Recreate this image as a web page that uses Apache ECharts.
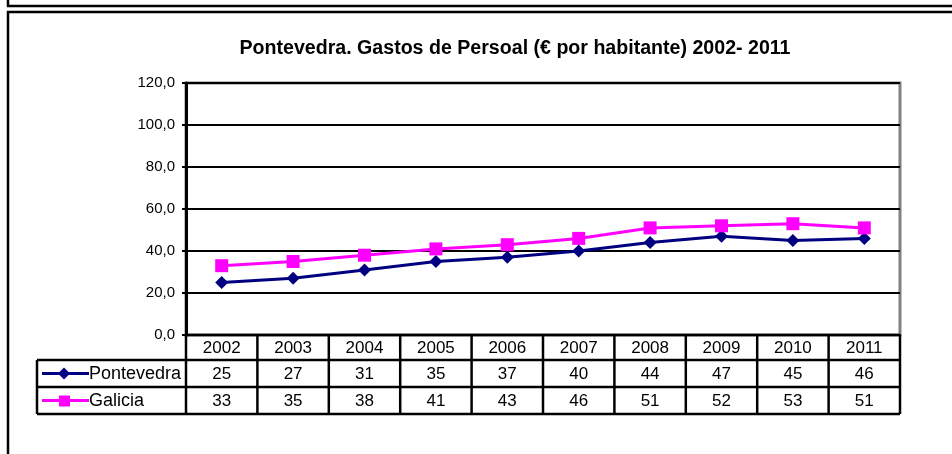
<!DOCTYPE html>
<html>
<head>
<meta charset="utf-8">
<script src="https://cdn.jsdelivr.net/npm/echarts@6/dist/echarts.min.js"></script>
<style>
  html, body { margin: 0; padding: 0; background: #fff; }
  #chart { width: 952px; height: 454px; }
</style>
</head>
<body>
<div id="chart"></div>
<script>
// Gastos de persoal por habitante, 2002-2011
const years = ['2002', '2003', '2004', '2005', '2006', '2007', '2008', '2009', '2010', '2011'];
const pontevedra = [25, 27, 31, 35, 37, 40, 44, 47, 45, 46];
const galicia = [33, 35, 38, 41, 43, 46, 51, 52, 53, 51];
const seriesNames = ['Pontevedra', 'Galicia'];
const yTicks = { min: 0, max: 120, interval: 20 };

const FONT = 'Arial, "Liberation Sans", sans-serif';
const NAVY = '#000080';
const MAGENTA = '#FF00FF';

const chart = echarts.init(document.getElementById('chart'), null, { renderer: 'canvas' });

const gridBox = { left: 186, top: 83, right: 52, bottom: 119 };

chart.setOption({
  animation: false,
  backgroundColor: '#fff',
  title: {
    text: 'Pontevedra. Gastos de Persoal (€ por habitante) 2002- 2011',
    left: 510, top: 34, textAlign: 'center',
    textStyle: { fontFamily: FONT, fontSize: 19.6, fontWeight: 'bold', color: '#000' }
  },
  grid: {
    left: gridBox.left, top: gridBox.top, right: gridBox.right, bottom: gridBox.bottom,
    show: true, borderColor: '#808080', borderWidth: 3, backgroundColor: 'transparent'
  },
  xAxis: {
    type: 'category', data: years, boundaryGap: true,
    axisLine: { show: true, lineStyle: { color: '#000', width: 2 } },
    axisTick: { show: false }, axisLabel: { show: false }, splitLine: { show: false }
  },
  yAxis: {
    type: 'value', min: yTicks.min, max: yTicks.max, interval: yTicks.interval,
    axisLine: { show: true, lineStyle: { color: '#000', width: 3 } },
    axisTick: { show: true, length: 4, lineStyle: { color: '#000', width: 2 } },
    axisLabel: {
      fontFamily: FONT, fontSize: 15, color: '#000', margin: 11,
      formatter: v => v.toFixed(1).replace('.', ',')
    },
    splitLine: { show: true, lineStyle: { color: '#000', width: 2 } }
  },
  series: [
    {
      name: seriesNames[0], type: 'line', data: pontevedra,
      symbol: 'diamond', symbolSize: 13,
      lineStyle: { color: NAVY, width: 3 }, itemStyle: { color: NAVY },
      z: 3
    },
    {
      name: seriesNames[1], type: 'line', data: galicia,
      symbol: 'rect', symbolSize: 13,
      lineStyle: { color: MAGENTA, width: 3 }, itemStyle: { color: MAGENTA },
      z: 4
    }
  ]
});

// Data table under the plot, aligned with the category axis
function buildTable() {
  const g = [];
  const x0 = chart.convertToPixel({ xAxisIndex: 0 }, years[0]);
  const x1 = chart.convertToPixel({ xAxisIndex: 0 }, years[1]);
  const band = x1 - x0;
  const left = x0 - band / 2;
  const right = left + band * years.length;
  const top = chart.convertToPixel({ yAxisIndex: 0 }, yTicks.min);
  const rowH = [25, 27, 27];
  const r0 = top, r1 = r0 + rowH[0], r2 = r1 + rowH[1], r3 = r2 + rowH[2];
  const legLeft = 37;
  const line = (xa, ya, xb, yb) => g.push({
    type: 'line', shape: { x1: xa, y1: ya, x2: xb, y2: yb },
    style: { stroke: '#000', lineWidth: 2.5 }, z: 10
  });
  const text = (s, x, y, align, size) => g.push({
    type: 'text', x: x, y: y,
    style: { text: s, fill: '#000', font: (size || 17) + 'px ' + FONT, textAlign: align || 'center', textVerticalAlign: 'middle' },
    z: 11
  });
  // horizontal rules
  line(left, r0, right, r0);
  line(legLeft, r1, right, r1);
  line(legLeft, r2, right, r2);
  line(legLeft, r3, right, r3);
  // vertical rules
  line(legLeft, r1, legLeft, r3);
  for (let i = 0; i <= years.length; i++) {
    const x = left + band * i;
    line(x, r0, x, r3);
  }
  // cells
  years.forEach((y, i) => {
    const cx = chart.convertToPixel({ xAxisIndex: 0 }, y);
    text(y, cx, (r0 + r1) / 2 + 1);
    text(String(pontevedra[i]), cx, (r1 + r2) / 2 + 1);
    text(String(galicia[i]), cx, (r2 + r3) / 2 + 1);
  });
  // legend keys
  const keys = [
    { name: seriesNames[0], color: NAVY, sym: 'diamond', y: (r1 + r2) / 2 },
    { name: seriesNames[1], color: MAGENTA, sym: 'rect', y: (r2 + r3) / 2 }
  ];
  keys.forEach(k => {
    g.push({ type: 'line', shape: { x1: legLeft + 5, y1: k.y, x2: legLeft + 52, y2: k.y },
      style: { stroke: k.color, lineWidth: 3 }, z: 11 });
    if (k.sym === 'diamond') {
      g.push({ type: 'polygon', shape: { points: [[legLeft + 27, k.y - 6], [legLeft + 33, k.y], [legLeft + 27, k.y + 6], [legLeft + 21, k.y]] },
        style: { fill: k.color }, z: 12 });
    } else {
      g.push({ type: 'rect', shape: { x: legLeft + 22, y: k.y - 5, width: 11, height: 11 },
        style: { fill: k.color }, z: 12 });
    }
    text(k.name, legLeft + 52, k.y + 1, 'left', 18);
  });
  // outer frames
  g.push({ type: 'rect', shape: { x: 8, y: -60, width: 1000, height: 66 },
    style: { fill: 'none', stroke: '#000', lineWidth: 2.5 }, z: 20 });
  g.push({ type: 'rect', shape: { x: 8, y: 12, width: 1000, height: 500 },
    style: { fill: 'none', stroke: '#000', lineWidth: 2.5 }, z: 20 });
  chart.setOption({ graphic: { elements: g } });
}
buildTable();
</script>
</body>
</html>
